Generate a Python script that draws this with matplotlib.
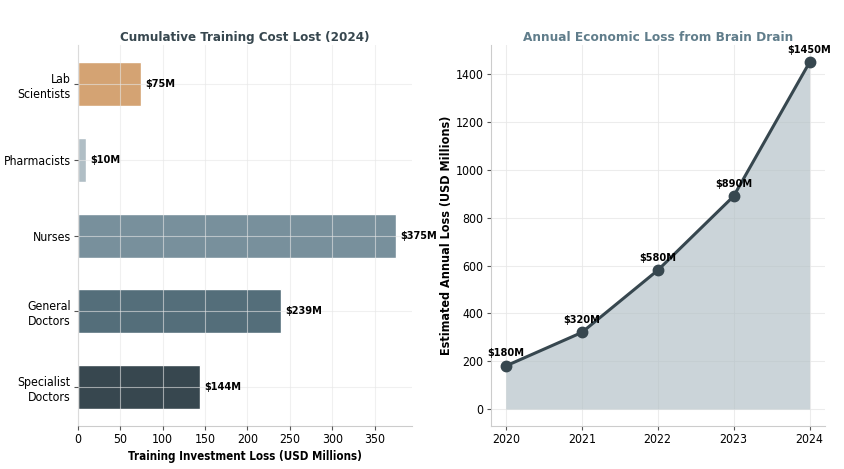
import numpy as np
import matplotlib.pyplot as plt

# Training cost lost by profession (USD millions)
professions = ["Specialist\nDoctors", "General\nDoctors", "Nurses", "Pharmacists", "Lab\nScientists"]
training_loss = [144, 239, 375, 10, 75]
bar_colors = ["#37474F", "#546E7A", "#78909C", "#B0BEC5", "#D4A373"]

# Annual economic loss (USD millions)
years = [2020, 2021, 2022, 2023, 2024]
annual_loss = [180, 320, 580, 890, 1450]

plt.rcParams['font.family'] = ['DejaVu Sans']
plt.rcParams['font.stretch'] = 'condensed'

fig, (ax1, ax2) = plt.subplots(1, 2, figsize=(8.45, 4.69), dpi=100)
fig.subplots_adjust(left=0.092, right=0.976, top=0.904, bottom=0.091, wspace=0.236)

# Left: horizontal bars
y = np.arange(len(professions))
ax1.barh(y, training_loss, height=0.58, color=bar_colors, edgecolor="white", linewidth=1, zorder=1)
ax1.set_yticks(y)
ax1.set_yticklabels(professions)
ax1.set_xlim(0, max(training_loss) * 1.05)
ax1.grid(True, color="#e6e6e6", alpha=0.6, linewidth=0.8, zorder=3)
ax1.set_axisbelow(False)
for yi, v in zip(y, training_loss):
    ax1.text(v + 5, yi, f"${v}M", va="center", ha="left", fontsize=7.8, fontweight="bold")
ax1.set_xlabel("Training Investment Loss (USD Millions)", fontsize=8.3, fontweight="bold", labelpad=3)
ax1.set_title("Cumulative Training Cost Lost (2024)", fontsize=9.5, fontweight="bold",
              color="#37474F", pad=3)

# Right: line with area
ax2.fill_between(years, annual_loss, 0, color="#B0BEC5", alpha=0.65, linewidth=0)
ax2.plot(years, annual_loss, color="#37474F", linewidth=2.2, marker="o", markersize=7.5)
for xi, v in zip(years, annual_loss):
    ax2.annotate(f"${v}M", (xi, v), textcoords="offset points", xytext=(0, 7),
                 ha="center", fontsize=7.8, fontweight="bold")
ax2.set_xticks(years)
ax2.set_ylabel("Estimated Annual Loss (USD Millions)", fontsize=9, fontweight="bold", labelpad=2)
ax2.set_title("Annual Economic Loss from Brain Drain", fontsize=9.7, fontweight="bold",
              color="#607D8B", pad=3)
ax2.grid(True, color="#e8e8e8", alpha=0.8, linewidth=0.8)
ax2.set_axisbelow(True)

for ax in (ax1, ax2):
    ax.spines["top"].set_visible(False)
    ax.spines["right"].set_visible(False)
    ax.spines["left"].set_color("#cccccc")
    ax.spines["bottom"].set_color("#cccccc")
    ax.tick_params(labelsize=8.8, color="#555555", length=3, pad=2)

fig.savefig("out.png", dpi=100)
